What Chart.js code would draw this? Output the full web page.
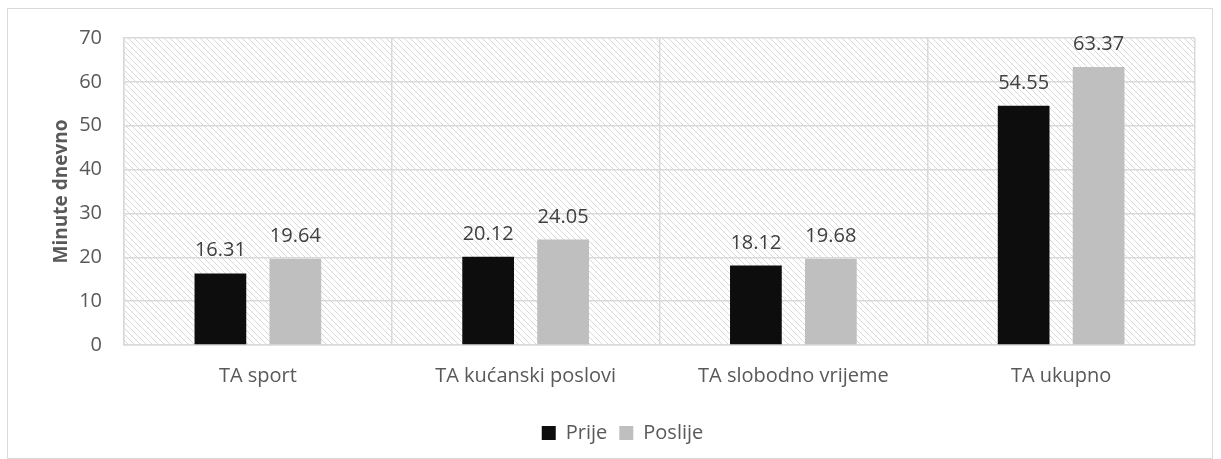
<!DOCTYPE html>
<html>
<head>
<meta charset="utf-8">
<script src="https://cdn.jsdelivr.net/npm/chart.js@4.4.0/dist/chart.umd.min.js"></script>
<style>
  html, body { margin: 0; padding: 0; background: #fff; }
  #wrap { width: 1221px; height: 459px; position: relative; }
</style>
</head>
<body>
<div id="wrap"><canvas id="grafica" width="1221" height="459"></canvas></div>
<script>
const kategorije = ['TA sport', 'TA kućanski poslovi', 'TA slobodno vrijeme', 'TA ukupno'];
const prije = [16.31, 20.12, 18.12, 54.55];
const poslije = [19.64, 24.05, 19.68, 63.37];
const yTicks = [0, 10, 20, 30, 40, 50, 60, 70];

const FONT = '"Open Sans", "Liberation Sans", sans-serif';

// uzorak za pozadinu (dijagonalne crte)
function napraviUzorak() {
  const c = document.createElement('canvas');
  c.width = 6; c.height = 6;
  const g = c.getContext('2d');
  g.fillStyle = '#ffffff';
  g.fillRect(0, 0, 6, 6);
  g.strokeStyle = '#d9d9d9';
  g.lineWidth = 1;
  g.beginPath();
  g.moveTo(-1, -1); g.lineTo(7, 7);
  g.moveTo(-4, 2); g.lineTo(4, 10);
  g.moveTo(2, -4); g.lineTo(10, 4);
  g.stroke();
  return g.createPattern(c, 'repeat');
}

const pozadina = {
  id: 'pozadina',
  beforeDraw(chart) {
    const { ctx, chartArea: a } = chart;
    ctx.save();
    ctx.strokeStyle = '#d9d9d9';
    ctx.lineWidth = 1;
    ctx.strokeRect(7.5, 8.5, 1205, 450);
    ctx.fillStyle = napraviUzorak();
    ctx.fillRect(a.left, a.top, a.right - a.left, a.bottom - a.top);
    ctx.restore();
  }
};

const oznake = {
  id: 'oznake',
  afterDatasetsDraw(chart) {
    const ctx = chart.ctx;
    ctx.save();
    ctx.font = '20px ' + FONT;
    ctx.fillStyle = '#404040';
    ctx.textAlign = 'center';
    ctx.textBaseline = 'alphabetic';
    chart.data.datasets.forEach((ds, i) => {
      chart.getDatasetMeta(i).data.forEach((bar, j) => {
        ctx.fillText(ds.data[j].toFixed(2), bar.x, bar.y - 17);
      });
    });
    ctx.restore();
  }
};

new Chart(document.getElementById('grafica'), {
  type: 'bar',
  data: {
    labels: kategorije,
    datasets: [
      { label: 'Prije', data: prije, backgroundColor: '#0d0d0d', categoryPercentage: 0.56, barPercentage: 0.69 },
      { label: 'Poslije', data: poslije, backgroundColor: '#bfbfbf', categoryPercentage: 0.56, barPercentage: 0.69 }
    ]
  },
  options: {
    responsive: false,
    animation: false,
    layout: { padding: { left: 50, right: 26, top: 38, bottom: 6 } },
    plugins: {
      tooltip: { enabled: false },
      legend: {
        position: 'bottom',
        labels: {
          color: '#595959',
          font: { family: FONT, size: 20 },
          boxWidth: 14, boxHeight: 14, padding: 12
        }
      }
    },
    scales: {
      x: {
        grid: { color: '#d9d9d9', lineWidth: 1.5, drawTicks: false, offset: true },
        border: { color: '#d9d9d9', width: 1.5 },
        ticks: { color: '#595959', font: { family: FONT, size: 20 }, padding: 19 },
        afterFit(s) { s.height = 66; }
      },
      y: {
        min: 0, max: 70,
        afterBuildTicks(s) { s.ticks = yTicks.map(v => ({ value: v })); },
        grid: { color: '#d9d9d9', lineWidth: 1.5, drawTicks: false },
        border: { color: '#d9d9d9', width: 1.5 },
        ticks: { color: '#595959', font: { family: FONT, size: 20 }, padding: 22 },
        title: { display: true, text: 'Minute dnevno', color: '#595959', font: { family: FONT, size: 19, weight: 'bold' }, padding: 0 },
        afterFit(s) { s.width = 74; }
      }
    }
  },
  plugins: [pozadina, oznake]
});
</script>
</body>
</html>
